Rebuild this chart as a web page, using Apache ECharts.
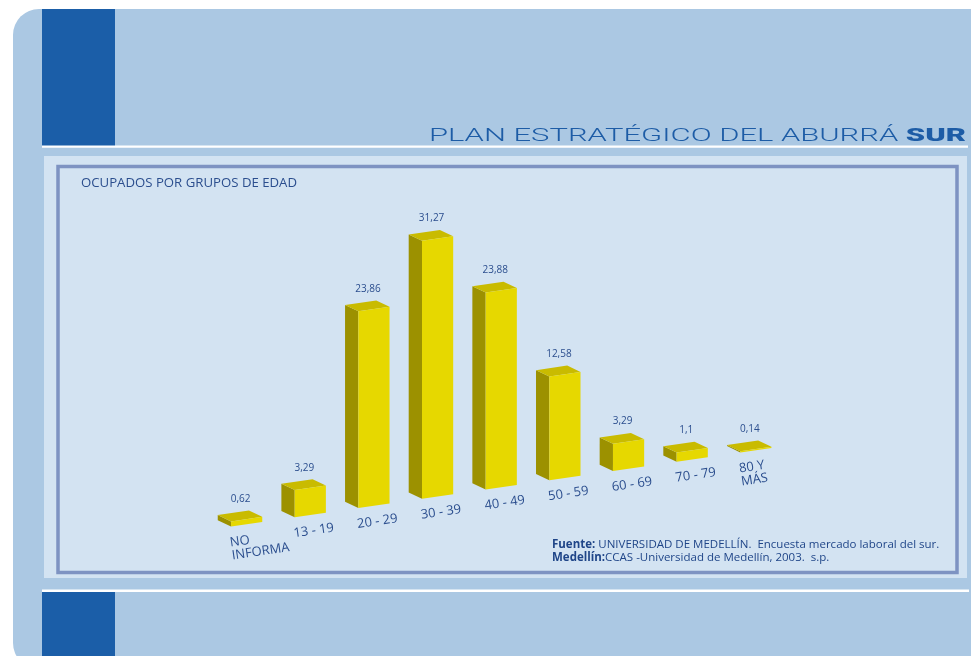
<!DOCTYPE html>
<html>
<head>
<meta charset="utf-8">
<title>Ocupados por grupos de edad</title>
<script src="https://cdn.jsdelivr.net/npm/echarts@6/dist/echarts.min.js"></script>
<style>
  html, body { margin: 0; padding: 0; background: #ffffff; }
  #chart { width: 971px; height: 656px; }
</style>
</head>
<body>
<div id="chart"></div>
<script>
// Age groups and share of employed people (%)
const categories = ['NO\nINFORMA', '13 - 19', '20 - 29', '30 - 39', '40 - 49', '50 - 59', '60 - 69', '70 - 79', '80 Y\nMÁS'];
const values = [0.62, 3.29, 23.86, 31.27, 23.88, 12.58, 3.29, 1.1, 0.14];

const chartTitle = 'OCUPADOS POR GRUPOS DE EDAD';
const headerText = 'PLAN ESTRATÉGICO DEL ABURRÁ ';
const headerBold = 'SUR';
const sourceLines = [
  ['Fuente:', ' UNIVERSIDAD DE MEDELLÍN.  Encuesta mercado laboral del sur.'],
  ['Medellín:', 'CCAS -Universidad de Medellín, 2003.  s.p.']
];

// Oblique "3D" look: the floor rises to the right, boxes show a left side and a top face
const SLANT = 0.1455;          // vertical rise per pixel to the right
const DEPTH = [-13.3, -6.3];   // offset of the back edges
const COL_FRONT = '#e6d800';
const COL_SIDE = '#9c9100';
const COL_TOP = '#c9bb00';
const TEXT_BLUE = '#2b4e8e';
const FONT = '"Open Sans", "Noto Sans", sans-serif';

function fmt(v) { return String(v).replace('.', ','); }

function renderBox(params, api) {
  const i = api.value(0);
  const v = api.value(1);
  const cs = params.coordSys;
  const xMid = cs.x + cs.width / 2;
  const base = api.coord([i, 0]);
  const top = api.coord([i, v]);
  const w = api.size([1, 0])[0] * 0.49;
  const cx = base[0];
  const fl = cx - w / 2, fr = cx + w / 2;
  const sk = x => -SLANT * (x - xMid);
  const yb = x => base[1] + sk(x);
  const yt = x => top[1] + sk(x);
  const dx = DEPTH[0], dy = DEPTH[1];

  return {
    type: 'group',
    children: [
      {
        type: 'polygon',
        shape: { points: [[fl, yb(fl)], [fl, yt(fl)], [fl + dx, yt(fl) + dy], [fl + dx, yb(fl) + dy]] },
        style: { fill: COL_SIDE }
      },
      {
        type: 'polygon',
        shape: { points: [[fl, yt(fl)], [fr, yt(fr)], [fr + dx, yt(fr) + dy], [fl + dx, yt(fl) + dy]] },
        style: { fill: COL_TOP }
      },
      {
        type: 'polygon',
        shape: { points: [[fl, yb(fl)], [fr, yb(fr)], [fr, yt(fr)], [fl, yt(fl)]] },
        style: { fill: COL_FRONT }
      },
      {
        type: 'text',
        x: cx - 6,
        y: yt(cx) - 20,
        style: {
          text: fmt(v),
          fill: TEXT_BLUE,
          font: '10px ' + FONT,
          align: 'center',
          verticalAlign: 'middle'
        }
      },
      {
        type: 'text',
        x: fl - 2,
        y: yb(fl) + 10,
        rotation: SLANT,
        style: {
          text: categories[i],
          fill: TEXT_BLUE,
          font: '13px ' + FONT,
          align: 'left',
          verticalAlign: 'top',
          lineHeight: 13
        }
      }
    ]
  };
}

const chart = echarts.init(document.getElementById('chart'), null, { renderer: 'canvas' });

const option = {
  backgroundColor: '#ffffff',
  animation: false,
  grid: { left: 214.8, right: 183.3, top: 153.2, bottom: 168.8 },
  xAxis: { type: 'category', data: categories, show: false },
  yAxis: { type: 'value', min: 0, max: 40.5, show: false },
  graphic: [
    // page panel
    { type: 'rect', z: -10, shape: { x: 13, y: 9, width: 1000, height: 660, r: 26 }, style: { fill: '#abc8e3' } },
    // dark blue stripes
    { type: 'rect', z: -9, shape: { x: 42, y: 9, width: 73, height: 137 }, style: { fill: '#1b5ea8' } },
    { type: 'rect', z: -9, shape: { x: 42, y: 592, width: 73, height: 70 }, style: { fill: '#1b5ea8' } },
    // white rules
    { type: 'rect', z: -9, shape: { x: 42, y: 145.5, width: 926, height: 2.2 }, style: { fill: '#ffffff' } },
    { type: 'rect', z: -9, shape: { x: 42, y: 589.5, width: 927, height: 2.5 }, style: { fill: '#ffffff' } },
    // chart box
    { type: 'rect', z: -8, shape: { x: 44, y: 156, width: 923, height: 422 }, style: { fill: '#d3e3f2' } },
    { type: 'rect', z: -7, shape: { x: 58, y: 166.5, width: 899, height: 406 }, style: { fill: 'none', stroke: '#7e93c2', lineWidth: 3.5 } },
    // header
    {
      type: 'text', z: -6, x: 966, y: 145.5, scaleX: 1.72,
      style: {
        text: '{a|' + headerText + '}{b|' + headerBold + '}',
        align: 'right', verticalAlign: 'bottom',
        rich: {
          a: { font: '300 18px Roboto, "Liberation Sans", sans-serif', fill: '#1d5ca6' },
          b: { font: '900 18px Roboto, "Liberation Sans", sans-serif', fill: '#1d5ca6' }
        }
      }
    },
    // chart title
    {
      type: 'text', z: -6, x: 81, y: 183.5,
      style: { text: chartTitle, font: '13.2px ' + FONT, fill: TEXT_BLUE, align: 'left', verticalAlign: 'middle' }
    },
    // source note
    {
      type: 'text', z: -6, x: 552, y: 538.5,
      style: {
        text: sourceLines.map(l => '{b|' + l[0] + '}{r|' + l[1] + '}').join('\n'),
        align: 'left', verticalAlign: 'top',
        rich: {
          b: { font: 'bold 11.5px ' + FONT, fill: '#1f4588', lineHeight: 12.5 },
          r: { font: '11.5px ' + FONT, fill: '#1f4588', lineHeight: 12.5 }
        }
      }
    }
  ],
  series: [{
    type: 'custom',
    renderItem: renderBox,
    data: values.map((v, i) => [i, v]),
    encode: { x: 0, y: 1 },
    z: 5
  }]
};

chart.setOption(option);
</script>
</body>
</html>
